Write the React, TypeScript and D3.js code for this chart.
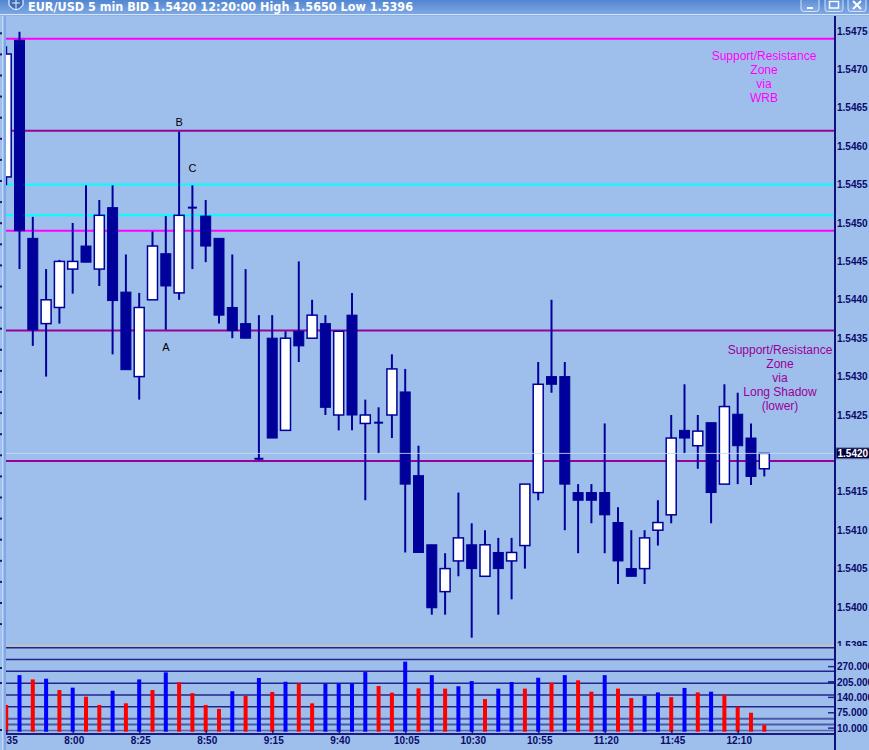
import React from "react";
import * as d3 from "d3";

const times = ["7:35","7:40","7:45","7:50","7:55","8:00","8:05","8:10","8:15","8:20","8:25","8:30","8:35","8:40","8:45","8:50","8:55","9:00","9:05","9:10","9:15","9:20","9:25","9:30","9:35","9:40","9:45","9:50","9:55","10:00","10:05","10:10","10:15","10:20","10:25","10:30","10:35","10:40","10:45","10:50","10:55","11:00","11:05","11:10","11:15","11:20","11:25","11:30","11:35","11:40","11:45","11:50","11:55","12:00","12:05","12:10","12:15","12:20"];
const opens = [1.5456,1.54738,1.5448,1.54369,1.5439,1.5444,1.5447,1.5444,1.5452,1.5441,1.543,1.544,1.5446,1.54409,1.5452,1.54509,1.5448,1.5439,1.54369,1.54193,1.5435,1.5423,1.54359,1.5435,1.54369,1.5425,1.5438,1.54239,1.5424,1.5425,1.5428,1.54171,1.54081,1.5402,1.5406,1.54081,1.5404,1.54071,1.5406,1.5408,1.54149,1.543,1.543,1.54149,1.54149,1.54149,1.5411,1.5405,1.5405,1.541,1.5412,1.5423,1.5421,1.5424,1.5416,1.54251,1.5422,1.5418];
const highs = [1.5473,1.54749,1.54508,1.5444,1.54452,1.545,1.54549,1.5453,1.54549,1.54459,1.54409,1.54489,1.54509,1.54619,1.54549,1.5453,1.5448,1.54459,1.5444,1.5438,1.5438,1.54359,1.5445,1.544,1.5438,1.54359,1.54409,1.5427,1.5426,1.54329,1.5431,1.5421,1.54081,1.5407,1.54149,1.54109,1.541,1.5409,1.5409,1.5416,1.54319,1.544,1.54319,1.5416,1.5416,1.54239,1.5413,1.541,1.541,1.54139,1.5425,1.5429,1.5425,1.5424,1.5429,1.54279,1.54239,1.542];
const lows = [1.54549,1.5444,1.5434,1.543,1.54369,1.54408,1.54449,1.54418,1.54329,1.54309,1.5427,1.544,1.54361,1.544,1.5444,1.54449,1.54369,1.5435,1.5435,1.54191,1.5422,1.5423,1.54319,1.5435,1.5425,1.5423,1.5423,1.54139,1.542,1.5422,1.54071,1.54071,1.5399,1.5399,1.5404,1.5396,1.5404,1.5399,1.5401,1.5405,1.54139,1.54279,1.541,1.5407,1.54109,1.5407,1.5403,1.5404,1.5403,1.5408,1.54109,1.542,1.5418,1.54109,1.5416,1.5416,1.54159,1.5417];
const closes = [1.5472,1.5449,1.54361,1.544,1.5445,1.5445,1.54449,1.5451,1.54399,1.54309,1.5439,1.5447,1.54418,1.5451,1.5452,1.5447,1.5438,1.5436,1.5435,1.54193,1.5422,1.5435,1.5434,1.5438,1.5426,1.54359,1.5425,1.5425,1.5424,1.5431,1.5416,1.54071,1.53999,1.5405,1.5409,1.5405,1.54081,1.5405,1.54071,1.5416,1.5429,1.5429,1.5416,1.54139,1.54139,1.5412,1.5406,1.5404,1.5409,1.5411,1.5422,1.5422,1.54229,1.54149,1.54261,1.5421,1.5417,1.542];
const volumes = [108,234,216,219,171,181,143,108,168,115,216,171,246,204,158,108,91,166,146,222,163,206,199,115,198,199,199,247,188,160,291,178,234,177,187,209,133,177,205,177,223,202,234,212,164,234,177,137,147,161,141,180,161,164,151,100,75,23];
const volumeDirs = ["d","u","d","u","d","u","d","d","u","d","u","d","u","d","d","d","d","u","d","u","d","u","d","d","u","u","u","u","d","d","u","d","u","d","u","u","d","u","u","d","u","d","u","d","d","u","d","d","u","u","d","u","d","u","d","d","d","d"];

const priceTicks = [1.5395,1.54,1.5405,1.541,1.5415,1.542,1.5425,1.543,1.5435,1.544,1.5445,1.545,1.5455,1.546,1.5465,1.547,1.5475];
const volumeTicks = [10,75,140,205,270];
const volumeGrid = [25,50,100,150,200,250,300];
const xLabelIdx = [0,5,10,15,20,25,30,35,40,45,50,55];

const levels = [1.5474,1.5462,1.5455,1.5451,1.5449,1.5436,1.5419];
const levelKinds = ["wrb","shadow","cyan","cyan","wrb","shadow","shadow"];

const titleText = "EUR/USD 5 min BID 1.5420 12:20:00 High 1.5650 Low 1.5396";
const lastPrice = 1.542;
const wrbNote = ["Support/Resistance","Zone","via","WRB"];
const shadowNote = ["Support/Resistance","Zone","via","Long Shadow","(lower)"];
const points = [{t:"B",i:13,p:1.54619,dy:-6},{t:"C",i:14,p:1.54549,dy:-13},{t:"A",i:12,p:1.54361,dy:21}];

const NAVY = "#00009a";
const BG = "#9ebfec";
const kindColor = { wrb: "#ff00ff", shadow: "#990099", cyan: "#00ffff" };

export default function App() {
  const x = d3.scaleLinear().domain([0, 57]).range([6.2, 6.2 + 57 * 13.3]);
  const y = d3.scaleLinear().domain([1.54, 1.5475]).range([607, 31]);
  const yv = d3.scaleLinear().domain([0, 350]).range([730.5, 647.7]);
  const axisX = 835;
  const minor = d3.range(15740, 15479, -1).map((v) => v / 10000).filter((p) => y(p) > 16 && y(p) < 645);
  const leftDots = d3.range(33.3, 640, 21.1);
  const font = "'Liberation Sans', Arial, sans-serif";

  return (
    <div style={{ position: "fixed", left: 0, top: 0, width: 869, height: 750 }}>
      <svg width={869} height={750} style={{ display: "block" }}>
        <defs>
          <linearGradient id="tb" x1="0" x2="0" y1="0" y2="1">
            <stop offset="0" stopColor="#5286d2" />
            <stop offset="1" stopColor="#7ea8e2" />
          </linearGradient>
          <linearGradient id="btn" x1="0" x2="0" y1="0" y2="1">
            <stop offset="0" stopColor="#4f82cc" />
            <stop offset="1" stopColor="#88afe6" />
          </linearGradient>
          <clipPath id="plot">
            <rect x={6} y={16} width={axisX - 6} height={629} />
          </clipPath>
        </defs>
        <rect x={0} y={0} width={869} height={750} fill={BG} />
        {/* title bar */}
        <rect x={0} y={0} width={869} height={14} fill="url(#tb)" />
        <line x1={0} x2={869} y1={14.5} y2={14.5} stroke="#d6e4f8" strokeWidth={1} />
        <line x1={0} x2={869} y1={15.5} y2={15.5} stroke="#8fb3e8" strokeWidth={1} />
        <g>
          <path d="M9,-2 L23,-2 L23,5 Q16,14 9,5 Z" fill="#3e6db8" stroke="#e8f0fc" strokeWidth={1.2} />
          <line x1={16} x2={16} y1={-1} y2={9} stroke="#e8f0fc" strokeWidth={1} />
          <line x1={12} x2={20} y1={3} y2={3} stroke="#e8f0fc" strokeWidth={1} />
        </g>
        <text x={28} y={10.5} fill="#ffffff" fontFamily="'DejaVu Sans', Verdana, sans-serif" fontSize={11.5} fontWeight="bold" textLength={385} lengthAdjust="spacingAndGlyphs">{titleText}</text>
        {[801, 825, 848].map((bx, k) => (
          <g key={bx}>
            <rect x={bx} y={-4} width={18} height={15.5} rx={2.5} fill="url(#btn)" stroke="#d4e2f6" strokeWidth={1} />
            {k === 0 && <rect x={bx + 6} y={7} width={6} height={2} fill="#ffffff" />}
            {k === 1 && <rect x={bx + 4.5} y={1.5} width={9} height={6.5} fill="none" stroke="#ffffff" strokeWidth={1.5} />}
            {k === 2 && (
              <path d={`M${bx + 5},1 L${bx + 13},9 M${bx + 13},1 L${bx + 5},9`} stroke="#ffffff" strokeWidth={2} />
            )}
          </g>
        ))}

        {/* levels */}
        <g clipPath="url(#plot)">
          {levels.map((p, i) => (
            <line key={i} x1={6} x2={axisX} y1={y(p)} y2={y(p)} stroke={kindColor[levelKinds[i]]} strokeWidth={2} />
          ))}
          {/* candles */}
          {times.map((t, i) => {
            const cx = x(i);
            const o = opens[i], c = closes[i];
            const top = y(Math.max(o, c));
            const bot = y(Math.min(o, c));
            return (
              <g key={t}>
                <line x1={cx} x2={cx} y1={y(highs[i])} y2={y(lows[i])} stroke={NAVY} strokeWidth={2} />
                {o === c ? (
                  <line x1={cx - 4.5} x2={cx + 4.5} y1={y(o)} y2={y(o)} stroke={NAVY} strokeWidth={2} />
                ) : (
                  <rect x={cx - 5} y={top} width={10} height={Math.max(1, bot - top)} fill={c > o ? "#ffffff" : NAVY} stroke={NAVY} strokeWidth={c > o ? 1.5 : 1} />
                )}
              </g>
            );
          })}
          <line x1={6} x2={axisX} y1={y(lastPrice)} y2={y(lastPrice)} stroke="#c8dcf6" strokeWidth={1} opacity={0.85} />
        </g>

        {/* point labels */}
        {points.map((pt) => (
          <text key={pt.t} x={x(pt.i)} y={y(pt.p) + pt.dy} textAnchor="middle" fontFamily={font} fontSize={11} fill="#000000">{pt.t}</text>
        ))}

        {/* notes */}
        {wrbNote.map((s, k) => (
          <text key={k} x={764} y={60 + k * 14.1} textAnchor="middle" fontFamily={font} fontSize={12} fill="#ff00ff">{s}</text>
        ))}
        {shadowNote.map((s, k) => (
          <text key={k} x={780} y={354.3 + k * 14} textAnchor="middle" fontFamily={font} fontSize={12} fill="#990099">{s}</text>
        ))}

        {/* price axis */}
        {minor.map((p) => {
          const major = Math.abs(Math.round(p * 10000) % 5) === 0;
          return (
            <line key={p} x1={major ? axisX - 7.5 : axisX - 5} x2={axisX} y1={y(p)} y2={y(p)} stroke="#1c2a9a" strokeWidth={major ? 1.5 : 1.2} />
          );
        })}
        {priceTicks.map((p) => (
          <text key={p} x={837} y={y(p) + 3.6} fontFamily={font} fontSize={10} fontWeight="bold" fill="#0a0a6a">{p.toFixed(4)}</text>
        ))}
        <rect x={836} y={447.8} width={36} height={11} fill="#000038" stroke="#7080c0" strokeWidth={1} />
        <text x={837.5} y={456.9} fontFamily={font} fontSize={10} fontWeight="bold" fill="#ffffff">{lastPrice.toFixed(4)}</text>

        {/* volume panel */}
        <rect x={6} y={646} width={863} height={104} fill={BG} />
        <line x1={6} x2={axisX} y1={645.8} y2={645.8} stroke="#c9c2a6" strokeWidth={1.5} />
        <line x1={6} x2={axisX} y1={yv(350)} y2={yv(350)} stroke="#24248e" strokeWidth={1.5} />
        {volumeGrid.map((v) => (
          <line key={v} x1={6} x2={axisX} y1={yv(v)} y2={yv(v)} stroke={v < 60 ? "#4a5aa8" : "#24248e"} strokeWidth={v < 60 ? 2 : 1.5} />
        ))}
        <line x1={6} x2={axisX} y1={yv(0)} y2={yv(0)} stroke="#5868b0" strokeWidth={1.5} />
        {volumes.map((v, i) => (
          <rect key={i} x={x(i) - 2} y={yv(v)} width={4} height={yv(0) + 1.2 - yv(v)} fill={volumeDirs[i] === "u" ? "#0000ff" : "#ff0000"} />
        ))}
        <line x1={6} x2={axisX} y1={734} y2={734} stroke="#1c1c7e" strokeWidth={2} />
        {xLabelIdx.map((i) => (
          <g key={i}>
            <line x1={x(i) + 0.6} x2={x(i) + 0.6} y1={730} y2={734} stroke="#1c1c7e" strokeWidth={1.5} />
            <text x={x(i) + 1.5} y={744} textAnchor="middle" fontFamily={font} fontSize={10} fontWeight="bold" fill="#0a0a6a">{times[i]}</text>
          </g>
        ))}
        {volumeTicks.map((v) => (
          <g key={v}>
            <line x1={axisX - 7} x2={axisX} y1={yv(v)} y2={yv(v)} stroke="#1c2a9a" strokeWidth={v === 205 ? 2 : 1.5} />
            <text x={837} y={yv(v) + 3.6} fontFamily={font} fontSize={10} fontWeight="bold" fill="#0a0a6a">{v.toFixed(3)}</text>
          </g>
        ))}

        {/* left frame strip (covers cut-off left axis) */}
        <rect x={0} y={16} width={5.5} height={734} fill={BG} />
        <line x1={2.5} x2={2.5} y1={16} y2={750} stroke="#c2d8f6" strokeWidth={1} />
        <line x1={5} x2={5} y1={16} y2={750} stroke="#74a2e4" strokeWidth={1.5} />
        {leftDots.map((d) => (
          <rect key={d} x={0} y={d - 1} width={2} height={2} fill="#1a1a6a" />
        ))}
        {[668, 683, 730].map((d) => (
          <rect key={d} x={0} y={d - 1} width={2} height={2} fill="#1a1a6a" />
        ))}

        {/* right axis line */}
        <line x1={axisX} x2={axisX} y1={16} y2={750} stroke="#10107a" strokeWidth={2} />
      </svg>
    </div>
  );
}
